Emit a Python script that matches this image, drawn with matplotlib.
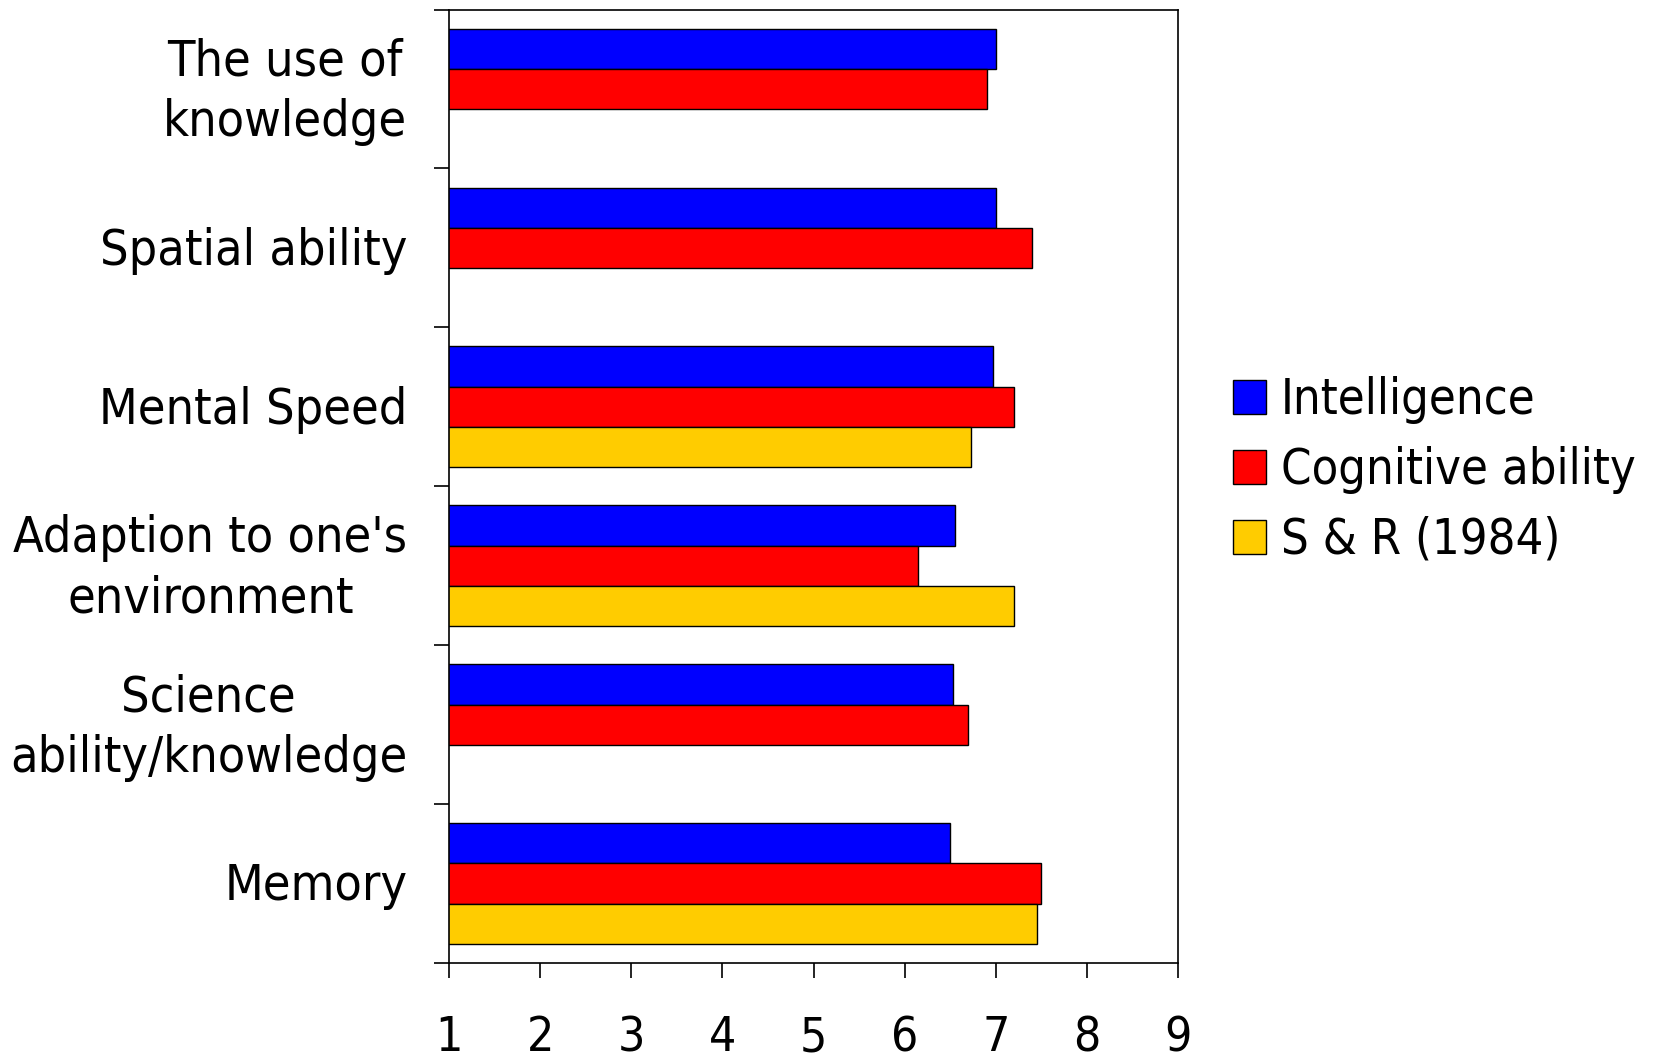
import numpy as np
import matplotlib
matplotlib.use('Agg')
from matplotlib import pyplot as plt
from matplotlib import transforms

categories = ['The use of\nknowledge', 'Spatial ability', 'Mental Speed',
              "Adaption to one's\nenvironment", 'Science\nability/knowledge', 'Memory']
intelligence = [7.0, 7.0, 6.97, 6.55, 6.53, 6.5]
cognitive = [6.9, 7.4, 7.2, 6.15, 6.7, 7.5]
sr_1984 = [np.nan, np.nan, 6.73, 7.2, np.nan, 7.45]
series_names = ['Intelligence', 'Cognitive ability', 'S & R (1984)']
x_ticks = [1, 2, 3, 4, 5, 6, 7, 8, 9]

plt.rcParams['font.family'] = ['DejaVu Sans']
plt.rcParams['font.stretch'] = 'condensed'

fig = plt.figure(figsize=(16.6, 10.61), dpi=100)
ax = fig.add_axes([449/1660, 1-963/1061, (1178-449)/1660, (963-9.5)/1061])

y = np.arange(len(categories))
h = 0.253
colors = ['#0000ff', '#ff0000', '#ffcc00']
for i, (vals, name) in enumerate(zip([intelligence, cognitive, sr_1984], series_names)):
    ax.barh(y + (i - 1) * h, vals, height=h, color=colors[i], edgecolor='black',
            linewidth=1.0, label=name)

ax.set_xlim(1, 9)
ax.set_ylim(len(categories) - 0.5, -0.5)
ax.set_xticks(x_ticks)
ax.set_xticklabels([str(t) for t in x_ticks], fontsize=34.5)
ax.tick_params(axis='x', direction='out', length=11, width=1.2, pad=26)

ax.set_yticks(np.arange(len(categories) + 1) - 0.5)
ax.set_yticklabels([])
ax.tick_params(axis='y', which='major', direction='out', length=11, width=1.2)
ax.set_yticks(y, minor=True)
ax.set_yticklabels(categories, minor=True, fontsize=36, multialignment='center',
                   linespacing=1.33)
ax.tick_params(axis='y', which='minor', length=0, pad=30)

# nudge labels up so multi-line ones sit centred on their band
for lab in ax.get_yticklabels(minor=True):
    dy = 6 / 72 if '\n' in lab.get_text() else 1.5 / 72
    lab.set_transform(lab.get_transform() + transforms.ScaledTranslation(0, dy, fig.dpi_scale_trans))

for s in ax.spines.values():
    s.set_linewidth(1.2)

fig.legend(loc='center left', bbox_to_anchor=(1209/1660, 1-470/1061), fontsize=35,
           frameon=False, handlelength=0.68, handleheight=0.68, handletextpad=0.3,
           labelspacing=0.45, borderpad=0)

fig.savefig('out.png', dpi=100)
